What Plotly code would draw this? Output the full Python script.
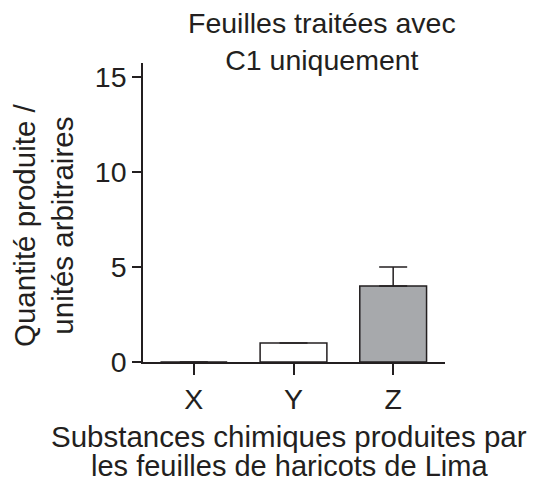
import plotly.graph_objects as go

categories = ["X", "Y", "Z"]
values = [0, 1, 4]
err_plus = [0, 0, 1]
bar_colors = ["#ffffff", "#ffffff", "#a7a9ac"]
y_ticks = [0, 5, 10, 15]
title_text = "Feuilles traitées avec<br>C1 uniquement"
x_title = ["Substances chimiques produites par", "les feuilles de haricots de Lima"]
y_title = "Quantité produite /<br>unités arbitraires"

INK = "#231f20"
FONT = "Liberation Sans, Arial, sans-serif"

fig = go.Figure(go.Bar(
    x=categories, y=values, width=0.67,
    marker=dict(color=bar_colors, line=dict(color=INK, width=1.5)),
    error_y=dict(type="data", symmetric=False, array=err_plus,
                 arrayminus=[0, 0, 0], color=INK, thickness=1.5, width=14,
                 visible=True),
))

fig.update_layout(
    width=534, height=484,
    margin=dict(l=143, r=89, t=63, b=122),
    plot_bgcolor="white", paper_bgcolor="white",
    font=dict(family=FONT, size=28, color=INK),
    showlegend=False,
)
fig.update_xaxes(
    range=[-0.51, 2.52], showline=True, linecolor=INK, linewidth=1.5,
    ticks="outside", ticklen=11, tickwidth=1.5, tickcolor=INK,
    showgrid=False, zeroline=False, tickfont=dict(size=28.5),
)
fig.update_yaxes(
    range=[0, 15.75], tickvals=y_ticks, showline=True, linecolor=INK, linewidth=1.5,
    ticks="outside", ticklen=9, tickwidth=1.5, tickcolor=INK,
    showgrid=False, zeroline=False, tickfont=dict(size=28.5),
)

# Title
fig.add_annotation(text=title_text, xref="paper", yref="paper",
                   x=(322 - 143) / 302, y=(362 - 5) / 299, xanchor="center", yanchor="top",
                   showarrow=False, font=dict(size=28.5, color=INK))
# X-axis title lines
fig.add_annotation(text=x_title[0], xref="paper", yref="paper",
                   x=(289 - 143) / 302, y=(362 - 418) / 299, xanchor="center", yanchor="top",
                   showarrow=False, font=dict(size=29.5, color=INK))
fig.add_annotation(text=x_title[1], xref="paper", yref="paper",
                   x=(289 - 143) / 302, y=(362 - 448) / 299, xanchor="center", yanchor="top",
                   showarrow=False, font=dict(size=29, color=INK))
# Y-axis title
fig.add_annotation(text=y_title, xref="paper", yref="paper",
                   x=(43 - 143) / 302, y=(362 - 225) / 299, xanchor="center", yanchor="middle",
                   textangle=-90, showarrow=False, font=dict(size=29.5, color=INK))

fig.write_html("out.html", config={"displayModeBar": False},
               post_script="document.body.style.margin='0';document.body.style.padding='0';")
